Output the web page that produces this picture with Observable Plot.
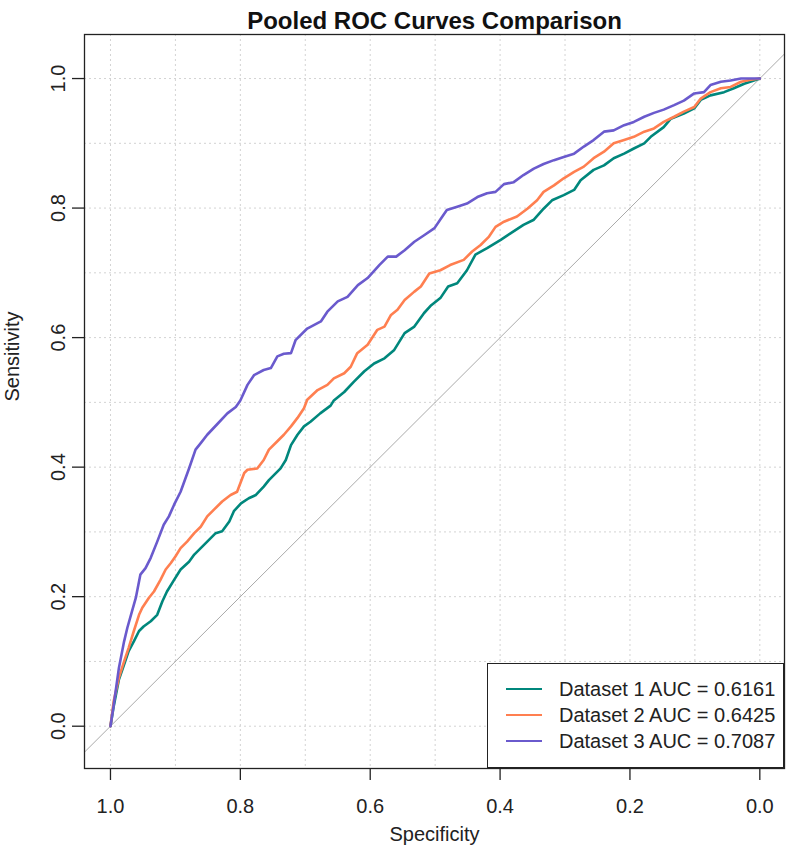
<!DOCTYPE html>
<html>
<head>
<meta charset="utf-8">
<script src="https://cdn.jsdelivr.net/npm/d3@7"></script>
<script src="https://cdn.jsdelivr.net/npm/@observablehq/plot@0.6"></script>
<style>
  html, body { margin: 0; padding: 0; background: #fff; overflow: hidden; }
  #wrap { position: relative; width: 787px; height: 856px; font-family: "Liberation Sans", Arial, sans-serif; }
  #legend { position: absolute; left: 487px; top: 663px; width: 295px; height: 103px; border: 1.3px solid #222; background: #fff; box-sizing: content-box; }
  .row { position: absolute; left: 0; height: 26px; display: flex; align-items: center; font-size: 20px; color: #222; white-space: nowrap; }
  .sw { width: 36px; height: 2.6px; margin-left: 18px; margin-right: 17px; }
</style>
</head>
<body>
<div id="wrap"></div>
<script>
// ---- data ----
const title = "Pooled ROC Curves Comparison";
const xLabel = "Specificity";
const yLabel = "Sensitivity";
const seriesNames = ["Dataset 1", "Dataset 2", "Dataset 3"];
const seriesColors = ["#00877C", "#FF7F50", "#6A5ACD"];
const aucValues = ["0.6161", "0.6425", "0.7087"];
const axisTicks = [0, 0.2, 0.4, 0.6, 0.8, 1.0];
const gridTicks = [0, 0.1, 0.2, 0.3, 0.4, 0.5, 0.6, 0.7, 0.8, 0.9, 1.0];

// [specificity, sensitivity]
const roc1 = [[1.0,0],[0.995,0.031],[0.987,0.072],[0.979,0.095],[0.972,0.116],[0.964,0.131],[0.956,0.147],[0.949,0.154],[0.938,0.162],[0.928,0.172],[0.920,0.193],[0.913,0.208],[0.902,0.226],[0.892,0.242],[0.879,0.254],[0.871,0.265],[0.861,0.275],[0.851,0.285],[0.838,0.298],[0.828,0.301],[0.817,0.316],[0.810,0.332],[0.799,0.344],[0.787,0.352],[0.776,0.357],[0.764,0.370],[0.756,0.380],[0.738,0.398],[0.730,0.411],[0.722,0.434],[0.712,0.450],[0.702,0.463],[0.692,0.470],[0.677,0.483],[0.661,0.495],[0.656,0.503],[0.640,0.516],[0.625,0.532],[0.609,0.548],[0.594,0.560],[0.578,0.568],[0.563,0.581],[0.547,0.607],[0.532,0.617],[0.517,0.638],[0.506,0.650],[0.492,0.661],[0.480,0.679],[0.466,0.684],[0.451,0.704],[0.438,0.728],[0.420,0.738],[0.399,0.751],[0.384,0.761],[0.364,0.774],[0.348,0.782],[0.333,0.799],[0.320,0.812],[0.302,0.820],[0.286,0.828],[0.276,0.843],[0.256,0.859],[0.240,0.866],[0.225,0.877],[0.209,0.884],[0.194,0.892],[0.178,0.900],[0.168,0.910],[0.148,0.925],[0.137,0.938],[0.117,0.946],[0.101,0.954],[0.091,0.967],[0.076,0.974],[0.055,0.979],[0.040,0.985],[0.024,0.992],[0,1]];
const roc2 = [[1.0,0],[0.995,0.039],[0.987,0.075],[0.979,0.100],[0.972,0.121],[0.964,0.147],[0.956,0.172],[0.951,0.183],[0.941,0.198],[0.933,0.208],[0.923,0.226],[0.915,0.242],[0.907,0.252],[0.900,0.262],[0.892,0.275],[0.882,0.285],[0.871,0.298],[0.861,0.308],[0.851,0.324],[0.841,0.334],[0.828,0.347],[0.815,0.357],[0.805,0.362],[0.794,0.391],[0.789,0.396],[0.774,0.398],[0.764,0.411],[0.756,0.427],[0.743,0.440],[0.733,0.450],[0.722,0.463],[0.712,0.476],[0.702,0.491],[0.697,0.504],[0.681,0.519],[0.666,0.527],[0.656,0.537],[0.640,0.545],[0.630,0.555],[0.620,0.576],[0.604,0.589],[0.589,0.612],[0.578,0.617],[0.568,0.635],[0.558,0.643],[0.547,0.658],[0.532,0.671],[0.522,0.679],[0.509,0.699],[0.492,0.704],[0.477,0.712],[0.456,0.720],[0.443,0.733],[0.430,0.743],[0.417,0.756],[0.407,0.771],[0.394,0.779],[0.374,0.787],[0.358,0.799],[0.343,0.812],[0.333,0.825],[0.317,0.835],[0.302,0.846],[0.286,0.856],[0.271,0.864],[0.256,0.877],[0.240,0.887],[0.225,0.900],[0.209,0.905],[0.194,0.910],[0.178,0.918],[0.163,0.923],[0.148,0.933],[0.132,0.941],[0.117,0.949],[0.101,0.956],[0.091,0.969],[0.076,0.979],[0.060,0.985],[0.045,0.987],[0.029,0.995],[0.014,0.998],[0,1]];
const roc3 = [[1.0,0],[0.995,0.033],[0.987,0.090],[0.979,0.131],[0.974,0.152],[0.967,0.177],[0.961,0.198],[0.954,0.234],[0.946,0.244],[0.938,0.260],[0.928,0.285],[0.918,0.311],[0.910,0.324],[0.902,0.342],[0.892,0.362],[0.879,0.398],[0.869,0.427],[0.861,0.437],[0.851,0.450],[0.835,0.467],[0.820,0.483],[0.807,0.493],[0.800,0.503],[0.789,0.527],[0.779,0.542],[0.764,0.550],[0.753,0.553],[0.743,0.571],[0.733,0.575],[0.722,0.576],[0.715,0.596],[0.697,0.614],[0.676,0.625],[0.666,0.640],[0.650,0.656],[0.635,0.663],[0.619,0.681],[0.604,0.692],[0.586,0.712],[0.573,0.725],[0.560,0.725],[0.547,0.735],[0.532,0.748],[0.517,0.758],[0.501,0.769],[0.491,0.784],[0.482,0.797],[0.466,0.802],[0.451,0.807],[0.435,0.817],[0.420,0.823],[0.407,0.825],[0.394,0.837],[0.379,0.840],[0.364,0.851],[0.348,0.861],[0.333,0.868],[0.317,0.874],[0.302,0.879],[0.286,0.884],[0.271,0.895],[0.256,0.905],[0.240,0.918],[0.225,0.920],[0.209,0.928],[0.194,0.933],[0.178,0.941],[0.163,0.947],[0.148,0.952],[0.132,0.959],[0.117,0.966],[0.101,0.977],[0.086,0.979],[0.076,0.990],[0.060,0.995],[0.045,0.997],[0.029,1.0],[0,1]];

const xDomain = [1.04, -0.038];
const yDomain = [-0.0653, 1.068];

// ---- build ----
const rows = [];
[roc1, roc2, roc3].forEach((arr, i) => arr.forEach(([spec, sens]) => rows.push({spec, sens, series: seriesNames[i]})));
const diag = xDomain.map(s => ({spec: s, sens: 1 - s}));
const fmt = d => d.toFixed(1);
const ink = "#222";

const chart = Plot.plot({
  width: 787, height: 856,
  marginLeft: 84, marginRight: 3, marginTop: 34, marginBottom: 88,
  style: {fontFamily: "'Liberation Sans', Arial, sans-serif", fontSize: "20px", color: ink, background: "#fff"},
  x: {domain: xDomain},
  y: {domain: yDomain},
  color: {domain: seriesNames, range: seriesColors},
  marks: [
    Plot.gridX(gridTicks, {stroke: "#D3D3D3", strokeOpacity: 1, strokeDasharray: "2,3", strokeWidth: 1}),
    Plot.gridY(gridTicks, {stroke: "#D3D3D3", strokeOpacity: 1, strokeDasharray: "2,3", strokeWidth: 1}),
    Plot.line(diag, {x: "spec", y: "sens", stroke: "#AAAAAA", strokeWidth: 1, clip: true}),
    Plot.line(rows, {x: "spec", y: "sens", z: "series", stroke: "series", strokeWidth: 2.6, strokeLinejoin: "round"}),
    Plot.frame({stroke: ink, strokeWidth: 1.3}),
    Plot.axisX({ticks: axisTicks, tickSize: 12, tickPadding: 18, tickFormat: fmt, fontSize: 20, stroke: ink, strokeWidth: 1.3, fill: ink, label: null}),
    Plot.axisY({ticks: axisTicks, tickSize: 12, tickPadding: 8, tickRotate: -90, tickFormat: fmt, fontSize: 20, stroke: ink, strokeWidth: 1.3, fill: ink, label: null}),
    Plot.text([xLabel], {frameAnchor: "bottom", dy: 72, fontSize: 20, fill: ink}),
    Plot.text([yLabel], {frameAnchor: "left", dx: -72, rotate: -90, fontSize: 20, fill: ink}),
    Plot.text([title], {frameAnchor: "top", dy: -23, fontSize: 24, fontWeight: "bold", fill: "#111"})
  ]
});

const wrap = document.getElementById("wrap");
wrap.appendChild(chart);

// legend (HTML overlay in bottom-right corner of the frame)
const legend = document.createElement("div");
legend.id = "legend";
seriesNames.forEach((name, i) => {
  const row = document.createElement("div");
  row.className = "row";
  row.style.top = (12 + i * 26) + "px";
  const sw = document.createElement("span");
  sw.className = "sw";
  sw.style.background = seriesColors[i];
  const tx = document.createElement("span");
  tx.textContent = `${name} AUC = ${aucValues[i]}`;
  row.appendChild(sw);
  row.appendChild(tx);
  legend.appendChild(row);
});
wrap.appendChild(legend);
</script>
</body>
</html>
